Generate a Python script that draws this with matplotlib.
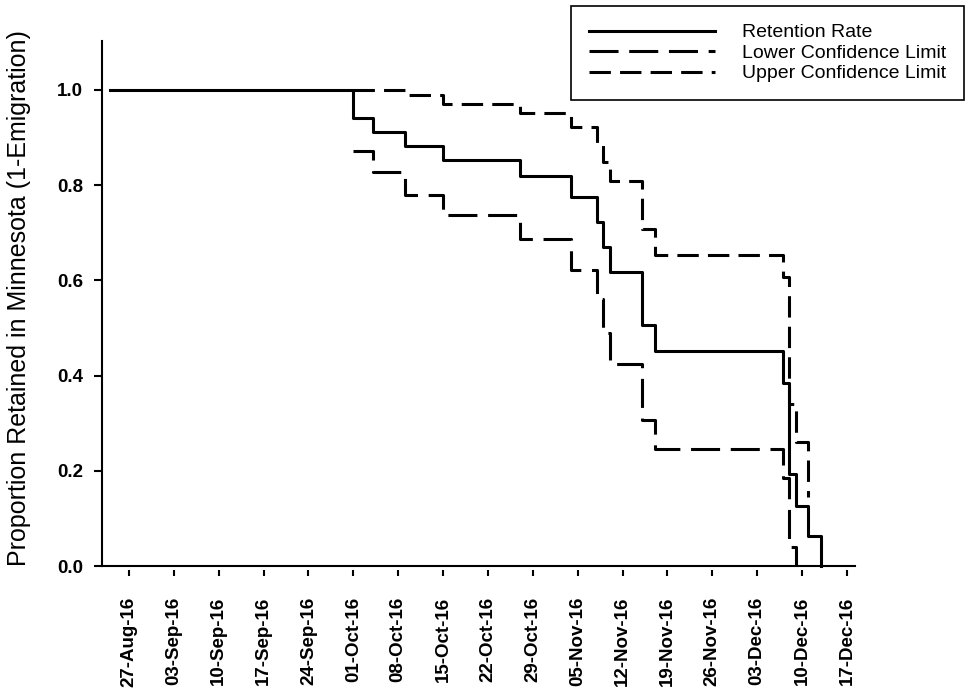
import matplotlib
matplotlib.use('Agg')
import matplotlib.pyplot as plt
import pandas as pd

plt.rcParams['font.family'] = ['Liberation Sans', 'DejaVu Sans']

# Kaplan-Meier style retention curve
start_date = '2016-08-24'
event_dates = ['2016-10-01', '2016-10-04', '2016-10-09', '2016-10-15', '2016-10-27',
               '2016-11-04', '2016-11-08', '2016-11-09', '2016-11-10', '2016-11-15',
               '2016-11-17', '2016-12-07', '2016-12-08', '2016-12-09', '2016-12-11',
               '2016-12-13']
retention = [0.941, 0.912, 0.882, 0.853, 0.818, 0.775, 0.722, 0.670, 0.617, 0.505,
             0.452, 0.385, 0.194, 0.127, 0.063, 0.0]
lower_cl = [0.872, 0.827, 0.778, 0.736, 0.687, 0.621, 0.560, 0.490, 0.425, 0.306,
            0.245, 0.185, 0.040, 0.0]
upper_cl = [1.0, 1.0, 0.989, 0.970, 0.951, 0.922, 0.886, 0.848, 0.809, 0.707,
            0.654, 0.606, 0.340, 0.260, 0.145]

tick_dates = ['2016-08-27', '2016-09-03', '2016-09-10', '2016-09-17', '2016-09-24',
              '2016-10-01', '2016-10-08', '2016-10-15', '2016-10-22', '2016-10-29',
              '2016-11-05', '2016-11-12', '2016-11-19', '2016-11-26', '2016-12-03',
              '2016-12-10', '2016-12-17']
y_ticks = [0.0, 0.2, 0.4, 0.6, 0.8, 1.0]

ret_x = pd.to_datetime([start_date] + event_dates)
ret_y = [1.0] + retention
low_x = pd.to_datetime(event_dates[:len(lower_cl)])
up_x = pd.to_datetime(event_dates[:len(upper_cl)])
tick_x = pd.to_datetime(tick_dates)

fig = plt.figure(figsize=(9.67, 6.98), dpi=100)
ax = fig.add_axes([0.1058, 0.1891, 0.8842 - 0.1058, 0.9417 - 0.1891])

# spines first: set_position resets the ticks
ax.spines['top'].set_visible(False)
ax.spines['right'].set_visible(False)
ax.spines['left'].set_linewidth(1.5)
# x ticks sit a little below the axis line, like the original
ax.spines['bottom'].set_position(('outward', 3))
ax.spines['bottom'].set_visible(False)
ax.axhline(0, color='black', lw=1.5, clip_on=False)

ax.step(ret_x, ret_y, where='post', color='black', lw=2.2, clip_on=False,
        label='Retention Rate')
ax.step(low_x, lower_cl, where='post', color='black', lw=2.2, clip_on=False,
        dashes=(9.5, 3.5), label='Lower Confidence Limit')
ax.step(up_x, upper_cl, where='post', color='black', lw=2.2, clip_on=False,
        dashes=(7.0, 3.0), label='Upper Confidence Limit')

x0 = pd.Timestamp('2016-10-01')
ax.set_xlim(x0 - pd.Timedelta(days=39.16), x0 + pd.Timedelta(days=78.27))
ax.set_ylim(0, 1.103)

ax.set_xticks(tick_x, [d.strftime('%d-%b-%y') for d in tick_x],
              rotation=90, fontweight='bold', fontsize=13.5)
ax.set_yticks(y_ticks, ['%.1f' % v for v in y_ticks],
              fontweight='bold', fontsize=13.5)

ax.tick_params(axis='y', direction='out', length=5.8, width=1.5, pad=8)
ax.tick_params(axis='x', direction='out', length=4.2, width=1.5, pad=15)

ax.set_ylabel('Proportion Retained in Minnesota (1-Emigration)', fontsize=18)
ax.yaxis.set_label_coords(-0.095, 0.511)

leg = ax.legend(loc='upper right', bbox_to_anchor=(0.997, 0.991),
                bbox_transform=fig.transFigure, fontsize=14, frameon=True,
                fancybox=False, edgecolor='black', framealpha=1,
                handlelength=6.5, handletextpad=1.4, labelspacing=0.15,
                borderpad=0.9, borderaxespad=0)
leg.get_frame().set_linewidth(1.2)

fig.savefig('out.png', dpi=100)
